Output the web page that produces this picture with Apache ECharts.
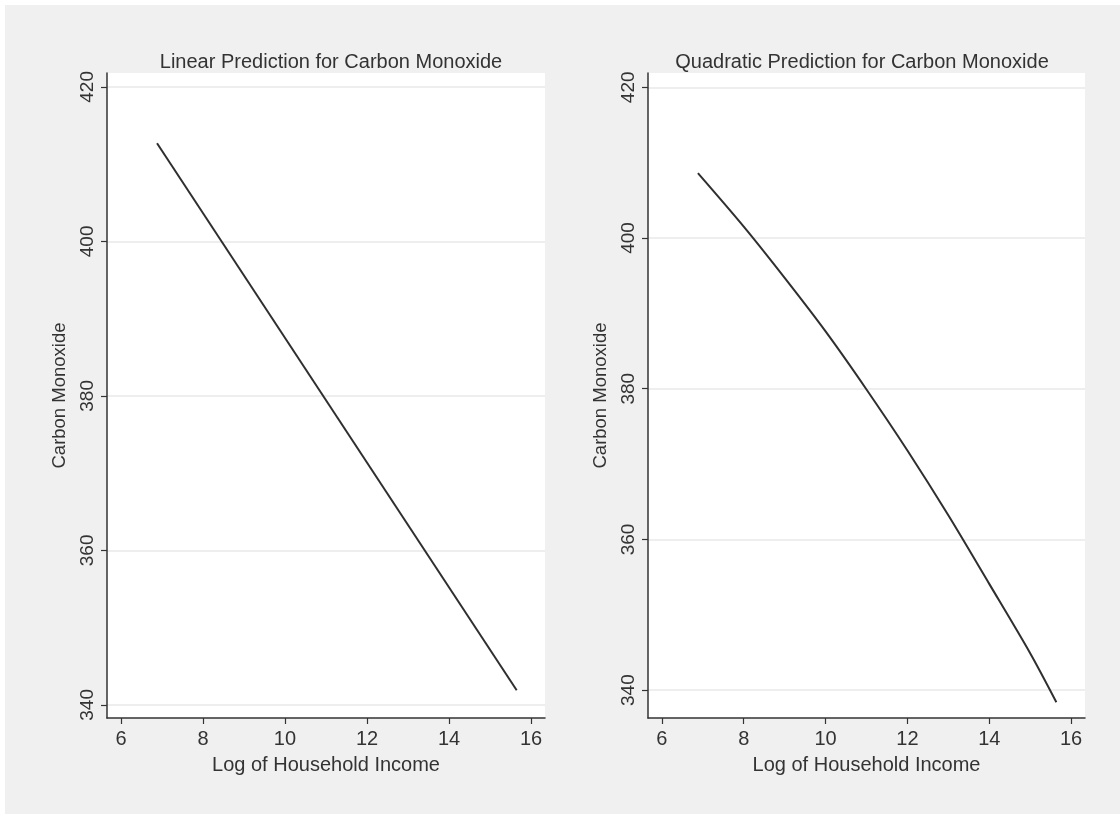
<!DOCTYPE html>
<html>
<head>
<meta charset="utf-8">
<script src="https://cdn.jsdelivr.net/npm/echarts@6/dist/echarts.min.js"></script>
<style>
  html, body { margin: 0; padding: 0; background: #fff; }
  #main { position: absolute; left: 5px; top: 5px; width: 1115px; height: 809px; }
</style>
</head>
<body>
<div id="main"></div>
<script>
// values
var incomeLin = [6.88, 15.65];
var coLin = [412.7, 341.9];

var incomeQuad = [6.88, 8, 9, 10, 11, 12, 13, 14, 15, 15.64];
var coQuad = [408.6, 401.5, 394.7, 387.6, 379.9, 371.8, 363.2, 354.1, 344.9, 338.4];

var xTicks = [6, 8, 10, 12, 14, 16];
var yTicks = [340, 360, 380, 400, 420];

var titles = ['Linear Prediction for Carbon Monoxide', 'Quadratic Prediction for Carbon Monoxide'];
var xName = 'Log of Household Income';
var yName = 'Carbon Monoxide';

var txt = '#333';
var font = 'Liberation Sans, Arial, sans-serif';

function pairs(xs, ys) {
  var out = [];
  for (var i = 0; i < xs.length; i++) out.push([xs[i], ys[i]]);
  return out;
}

function xAxisOpt(idx) {
  return {
    type: 'value', gridIndex: idx, min: 5.66, max: 16.34,
    name: xName, nameLocation: 'middle', nameGap: 37,
    nameTextStyle: { color: txt, fontSize: 20, fontFamily: font },
    axisLine: { show: true, onZero: false, lineStyle: { color: '#333', width: 1.5 } },
    axisTick: { show: true, length: 6, customValues: xTicks, lineStyle: { color: '#333', width: 1.2 } },
    axisLabel: { customValues: xTicks, color: txt, fontSize: 20, fontFamily: font, margin: 11 },
    splitLine: { show: false }
  };
}

function yAxisOpt(idx, lo, hi) {
  return {
    type: 'value', gridIndex: idx, min: lo, max: hi,
    name: yName, nameLocation: 'middle', nameGap: 38, nameRotate: 90,
    nameTextStyle: { color: txt, fontSize: 18.5, fontFamily: font },
    axisLine: { show: true, onZero: false, lineStyle: { color: '#333', width: 1.5 } },
    axisTick: { show: true, length: 6, customValues: yTicks, lineStyle: { color: '#333', width: 1.2 } },
    axisLabel: { customValues: yTicks, rotate: 90, color: txt, fontSize: 19, fontFamily: font, margin: 10 },
    splitLine: { show: true, lineStyle: { color: '#eeeeee', width: 2 } }
  };
}

var chart = echarts.init(document.getElementById('main'));
chart.setOption({
  backgroundColor: '#f0f0f0',
  animation: false,
  title: [
    { text: titles[0], left: 321, top: 42, textAlign: 'center',
      textStyle: { color: txt, fontSize: 20, fontWeight: 'normal', fontFamily: font } },
    { text: titles[1], left: 852, top: 42, textAlign: 'center',
      textStyle: { color: txt, fontSize: 20, fontWeight: 'normal', fontFamily: font } }
  ],
  grid: [
    { left: 102, top: 68, width: 438, height: 645, show: true, backgroundColor: '#fff', borderWidth: 0 },
    { left: 643, top: 68, width: 437, height: 645, show: true, backgroundColor: '#fff', borderWidth: 0 }
  ],
  xAxis: [xAxisOpt(0), xAxisOpt(1)],
  yAxis: [yAxisOpt(0, 338.3, 421.8), yAxisOpt(1, 336.3, 421.9)],
  series: [
    { type: 'line', xAxisIndex: 0, yAxisIndex: 0, data: pairs(incomeLin, coLin),
      showSymbol: false, lineStyle: { color: '#2f2f2f', width: 2 } },
    { type: 'line', xAxisIndex: 1, yAxisIndex: 1, data: pairs(incomeQuad, coQuad),
      smooth: 0.3, showSymbol: false, lineStyle: { color: '#2f2f2f', width: 2 } }
  ]
});
</script>
</body>
</html>
